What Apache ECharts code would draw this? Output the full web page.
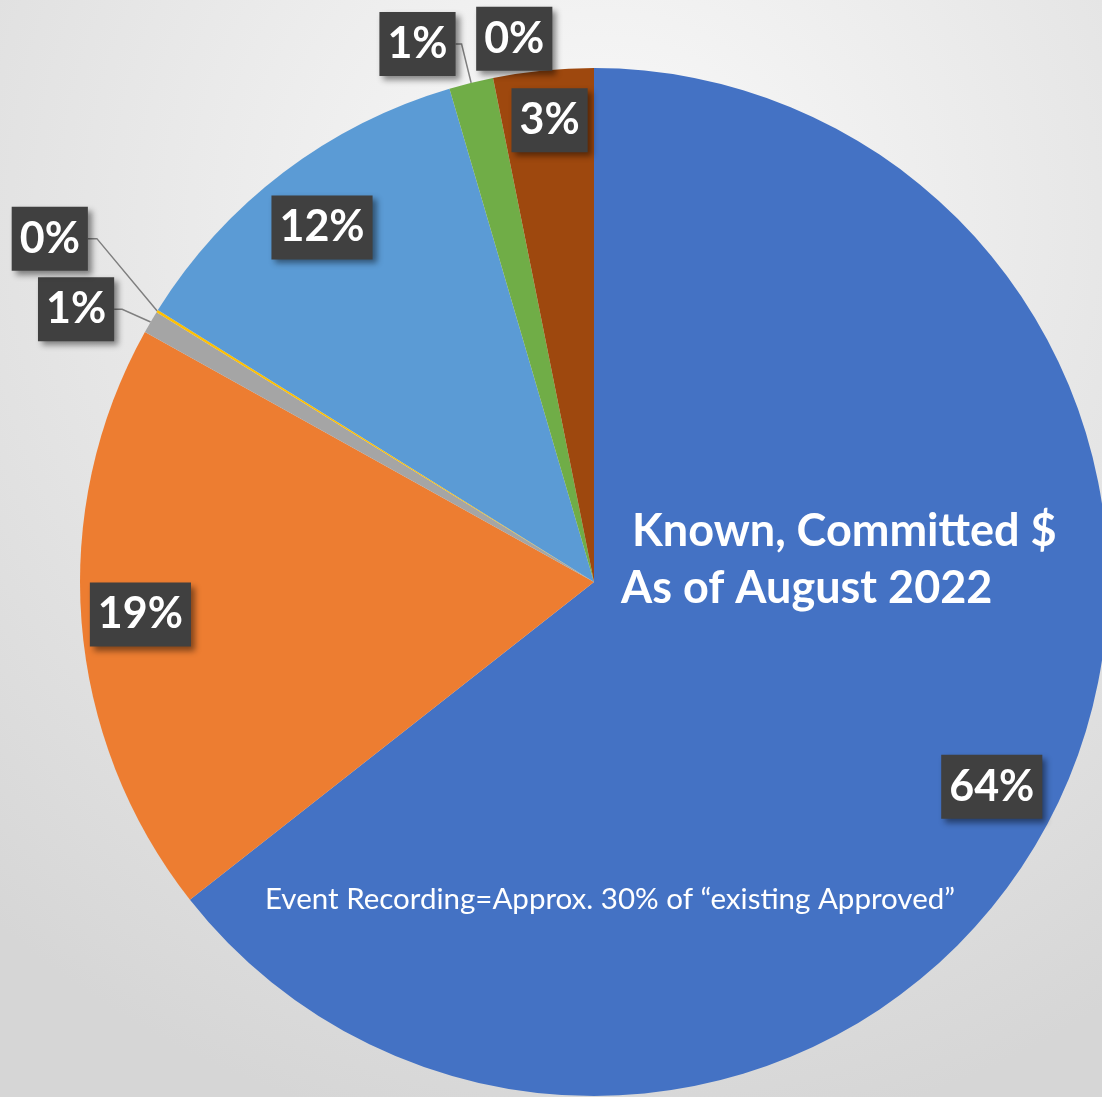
<!DOCTYPE html>
<html>
<head>
<meta charset="utf-8">
<title>Known, Committed $</title>
<script src="https://cdn.jsdelivr.net/npm/echarts@6/dist/echarts.min.js"></script>
<style>
    html, body { margin: 0; padding: 0; }
    #pie1 { width: 1102px; height: 1097px; }
</style>
</head>
<body>
<div id="pie1"></div>
<script>
// slice names and shares (%), clockwise from 12 o'clock
var names = ['Existing Approved', 'Category 2', 'Category 3', 'Category 4', 'Category 5', 'Category 6', 'Category 7', 'Category 8'];
var values = [64.46, 18.71, 0.71, 0.08, 11.6, 1.39, 0, 3.15];
var colors = ['#4472C4', '#ED7D31', '#A5A5A5', '#FFC000', '#5B9BD5', '#70AD47', '#264478', '#9E480E'];

// label placement per slice: inside boxes or outside with a leader line
var labelInside = [true, true, false, false, true, false, false, true];
var lineLen = [0, 0, 33, 71, 0, 40, 40, 0];
var lineLen2 = [0, 0, 8, 9, 0, 6, 0, 0];
var lineShow = [false, false, true, true, false, true, false, false];
var labelShiftX = [-7, -5, 0, 0, 0, 0, -9, 0];
var labelShiftY = [8, -3, 4, -35, 4, 0, 0, -14];
var labelAlign = [null, null, null, null, null, null, 'left', null];

var boxStyle = {
    color: '#fff',
    fontFamily: 'Lato',
    fontWeight: 'bold',
    fontSize: 43,
    lineHeight: 42,
    backgroundColor: '#404040',
    padding: [11, 8],
    shadowColor: 'rgba(0,0,0,0.45)',
    shadowBlur: 6,
    shadowOffsetX: 4,
    shadowOffsetY: 4,
    formatter: function (p) { return Math.round(p.percent) + '%'; }
};

// nudge labels and keep the leader line attached
function nudgeLabel(p) {
    var dx = labelShiftX[p.dataIndex] || 0;
    var dy = labelShiftY[p.dataIndex] || 0;
    var res = { dx: dx, dy: dy };
    if (labelAlign[p.dataIndex]) res.align = labelAlign[p.dataIndex];
    if ((dx || dy) && p.labelLinePoints && p.labelLinePoints.length === 3) {
        var pts = p.labelLinePoints;
        res.labelLinePoints = [pts[0], [pts[1][0] + dx, pts[1][1] + dy], [pts[2][0] + dx, pts[2][1] + dy]];
    }
    return res;
}

window.onload = function () {

    var outerData = [], innerData = [];
    for (var i = 0; i < values.length; i++) {
        outerData.push({
            name: names[i],
            value: values[i],
            itemStyle: { color: colors[i] },
            label: { show: !labelInside[i] },
            labelLine: { show: lineShow[i], length: lineLen[i], length2: lineLen2[i] }
        });
        innerData.push({
            name: names[i],
            value: values[i],
            label: { show: labelInside[i] }
        });
    }

    var option = {
        backgroundColor: {
            type: 'radial', x: 0.55, y: 0.2, r: 0.85,
            colorStops: [{ offset: 0, color: '#fafafa' }, { offset: 1, color: '#d6d6d6' }]
        },
        title: [{
            text: ' Known, Committed $\nAs of August 2022',
            left: 621,
            top: 503,
            padding: 0,
            textStyle: { color: '#fff', fontFamily: 'Lato', fontWeight: 'bold', fontSize: 45, lineHeight: 57 }
        }, {
            text: 'Event Recording=Approx. 30% of \u201cexisting Approved\u201d',
            left: 265,
            top: 883,
            padding: 0,
            textStyle: { color: '#fff', fontFamily: 'Lato', fontWeight: 'normal', fontSize: 29.5, lineHeight: 32 }
        }],
        series: [{
            type: 'pie',
            center: [594, 582],
            radius: 514,
            startAngle: 90,
            avoidLabelOverlap: false,
            silent: true,
            label: Object.assign({ position: 'outside', distanceToLabelLine: 0 }, boxStyle),
            labelLine: { lineStyle: { color: '#7f7f7f', width: 1.5 } },
            labelLayout: nudgeLabel,
            data: outerData
        }, {
            // transparent ring just to put the inside labels near the rim
            type: 'pie',
            center: [594, 582],
            radius: [380, 514],
            startAngle: 90,
            silent: true,
            itemStyle: { color: 'rgba(0,0,0,0)' },
            label: Object.assign({ position: 'inside' }, boxStyle),
            labelLine: { show: false },
            labelLayout: nudgeLabel,
            data: innerData
        }]
    };

    var chart1 = echarts.init(document.getElementById('pie1'));
    chart1.setOption(option);
};
</script>
</body>
</html>
